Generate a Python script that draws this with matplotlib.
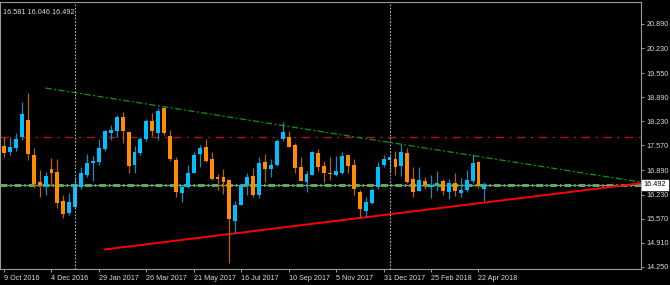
import matplotlib
matplotlib.use("Agg")
import matplotlib.pyplot as plt
import matplotlib.transforms as mtransforms

# weekly candles, index 0 = week of 9 Oct 2016
opens = [17.56, 17.39, 17.49, 17.80, 18.27, 17.31, 16.58, 16.46, 16.92, 16.85,
         16.06, 15.73, 15.90, 16.43, 16.76, 17.08, 17.12, 17.47, 17.90, 17.97,
         18.36, 17.93, 17.03, 17.37, 17.74, 18.23, 17.90, 18.59, 17.83, 17.17,
         16.26, 16.44, 16.83, 17.34, 17.53, 17.19, 16.70, 16.70, 16.63, 15.52,
         15.95, 16.48, 16.74, 16.21, 17.12, 16.94, 17.05, 17.74, 17.81, 17.58,
         16.97, 16.58, 16.76, 17.36, 17.01, 16.83, 16.76, 16.81, 17.30, 17.05,
         16.30, 15.79, 15.99, 16.43, 17.03, 17.17, 17.19, 17.01, 17.37, 16.65,
         16.33, 16.60, 16.44, 16.49, 16.59, 16.31, 16.54, 16.26, 16.35, 16.61,
         17.13, 16.37]
highs = [17.81, 17.79, 17.90, 18.75, 19.01, 17.49, 16.90, 16.85, 17.23, 17.21,
         16.21, 16.26, 16.72, 16.97, 17.34, 17.28, 17.74, 17.99, 18.13, 18.41,
         18.49, 17.95, 17.56, 17.79, 18.29, 18.47, 18.59, 18.63, 17.99, 17.25,
         16.49, 17.03, 17.40, 17.58, 17.76, 17.39, 16.79, 16.92, 16.65, 16.05,
         16.52, 16.81, 16.95, 17.25, 17.34, 17.19, 17.74, 18.22, 17.97, 17.63,
         17.25, 16.88, 17.41, 17.47, 17.15, 17.25, 17.28, 17.39, 17.32, 17.19,
         16.35, 16.17, 16.41, 17.13, 17.30, 17.28, 17.43, 17.61, 17.49, 16.97,
         16.97, 16.72, 16.76, 16.88, 16.66, 16.66, 16.81, 16.68, 16.90, 17.34,
         17.15, 16.581]
lows = [17.26, 17.31, 17.43, 17.72, 17.17, 16.40, 16.15, 16.22, 16.46, 15.86,
        15.60, 15.67, 15.85, 16.37, 16.70, 16.61, 17.04, 17.43, 17.72, 17.81,
        17.63, 16.81, 16.81, 17.31, 17.70, 17.83, 17.72, 17.86, 17.15, 16.17,
        16.03, 16.40, 16.81, 16.99, 17.12, 16.63, 16.35, 16.24, 14.35, 15.17,
        15.94, 16.22, 16.17, 16.13, 16.58, 16.72, 17.01, 17.70, 17.52, 16.83,
        16.59, 16.31, 16.75, 16.88, 16.58, 16.63, 16.74, 16.79, 16.83, 16.22,
        15.62, 15.62, 15.97, 16.37, 16.97, 16.85, 16.77, 16.74, 16.55, 16.17,
        16.32, 16.37, 16.14, 16.33, 16.21, 16.10, 16.19, 16.17, 16.31, 16.54,
        16.40, 16.046]
closes = [17.37, 17.54, 17.75, 18.43, 17.34, 16.52, 16.49, 16.74, 16.83, 16.01,
          15.70, 16.03, 16.49, 16.83, 17.10, 17.15, 17.51, 17.96, 17.99, 18.36,
          17.96, 17.01, 17.39, 17.76, 18.25, 17.97, 18.52, 17.90, 17.19, 16.30,
          16.44, 16.83, 17.31, 17.51, 17.15, 16.65, 16.65, 16.57, 15.57, 15.95,
          16.50, 16.72, 16.22, 17.08, 16.94, 17.03, 17.69, 17.94, 17.54, 16.95,
          16.61, 16.79, 17.40, 16.97, 16.83, 16.80, 16.87, 17.28, 17.01, 16.39,
          15.83, 16.03, 16.35, 16.97, 17.19, 17.25, 16.99, 17.39, 16.57, 16.30,
          16.63, 16.49, 16.50, 16.55, 16.33, 16.54, 16.33, 16.35, 16.63, 17.08,
          16.46, 16.492]

date_labels = ["9 Oct 2016", "4 Dec 2016", "29 Jan 2017", "26 Mar 2017",
               "21 May 2017", "16 Jul 2017", "10 Sep 2017", "5 Nov 2017",
               "31 Dec 2017", "25 Feb 2018", "22 Apr 2018"]
date_idx = [0, 8, 16, 24, 32, 40, 48, 56, 64, 72, 80]
price_ticks = [14.250, 14.910, 15.570, 16.230, 16.890, 17.570,
               18.230, 18.890, 19.550, 20.230, 20.890]
separators = [12, 65]          # year separators
resist_level = 17.80           # red dash-dot level
bid = 16.492
green_levels = [16.52, 16.46]
down_trend = ([7, 80], [19.14, 17.27])   # upper green trend line (ray)
up_trend = ([17, 81], [14.73, 16.01])    # lower red trend line (ray)
info = "16.581 16.046 16.492"

bull_col, bear_col = "#00BFFF", "#FF8C00"
bull_wick, bear_wick = "#1b8ab5", "#b06206"
txt = "#DADADA"
font = "Liberation Sans"
fs = 5.2

fig = plt.figure(figsize=(6.7, 2.85), dpi=100, facecolor="black")
ax = fig.add_axes([0.0, 1 - 269 / 285, 641 / 670, 267 / 285])
ax.set_facecolor("black")

x0, x1 = -0.68, 107.4
ax.set_xlim(x0, x1)
ax.set_ylim(14.195, 21.49)

# horizontal levels
ax.axhline(resist_level, color="#b41414", lw=1.0, ls=(0, (6, 4, 1.5, 4)), zorder=1)
ax.axhline(bid, color="#8a8a8a", lw=0.8, zorder=1)
for lv in green_levels:
    ax.axhline(lv, color="#3cc83c", lw=0.7, ls=(0, (7, 3, 1.5, 3)), zorder=1)

# trend lines extended to the right edge
def ray(pts, x_end):
    (xa, xb), (ya, yb) = pts
    slope = (yb - ya) / (xb - xa)
    return [xa, x_end], [ya, ya + slope * (x_end - xa)]

xs, ys = ray(down_trend, x1)
ax.plot(xs, ys, color="#0a9a0a", lw=0.9, ls=(0, (5, 2, 1.5, 2)), zorder=2)
xs, ys = ray(up_trend, x1)
ax.plot(xs, ys, color="#ff0000", lw=1.4, zorder=2)

# candles
idx = list(range(len(opens)))
up = [c >= o for o, c in zip(opens, closes)]
wick_cols = [bull_wick if u else bear_wick for u in up]
body_cols = [bull_col if u else bear_col for u in up]
ax.vlines(idx, lows, highs, colors=wick_cols, lw=0.9, zorder=3)
bottoms = [min(o, c) for o, c in zip(opens, closes)]
heights = [max(abs(c - o), 0.025) for o, c in zip(opens, closes)]
ax.bar(idx, heights, bottom=bottoms, width=0.66, color=body_cols,
       linewidth=0, zorder=4)

# period separators
for s in separators:
    ax.axvline(s, color="#b0b0b0", lw=0.8, ls=(0, (1.5, 1.5)), zorder=5)

# axes styling
for side in ["top", "right", "bottom", "left"]:
    ax.spines[side].set_color("#9a9a9a")
    ax.spines[side].set_linewidth(0.8)
ax.yaxis.tick_right()
ax.set_yticks(price_ticks)
ax.set_yticklabels(["%.3f" % p for p in price_ticks])
ax.set_xticks(date_idx)
ax.set_xticklabels(date_labels)
ax.tick_params(axis="y", colors="#9a9a9a", length=2.5, width=0.7, pad=1.5,
               labelcolor=txt, labelsize=fs)
ax.tick_params(axis="x", colors="#9a9a9a", length=2.5, width=0.7, pad=1.5,
               labelcolor=txt, labelsize=fs)
for lab in ax.get_xticklabels():
    lab.set_horizontalalignment("left")
    lab.set_fontfamily(font)
for lab in ax.get_yticklabels():
    lab.set_fontfamily(font)

# current price box
trans = mtransforms.blended_transform_factory(ax.transAxes, ax.transData)
ax.text(1.004, bid, "%.3f" % bid, transform=trans, ha="left", va="center",
        fontsize=fs, family=font, color="black",
        bbox=dict(boxstyle="square,pad=0.25", fc="white", ec="white"))

# info line top-left
ax.text(0.004, 0.975, info, transform=ax.transAxes, ha="left", va="top",
        fontsize=fs, family=font, color=txt)

fig.savefig("out.png", dpi=100, facecolor="black")
